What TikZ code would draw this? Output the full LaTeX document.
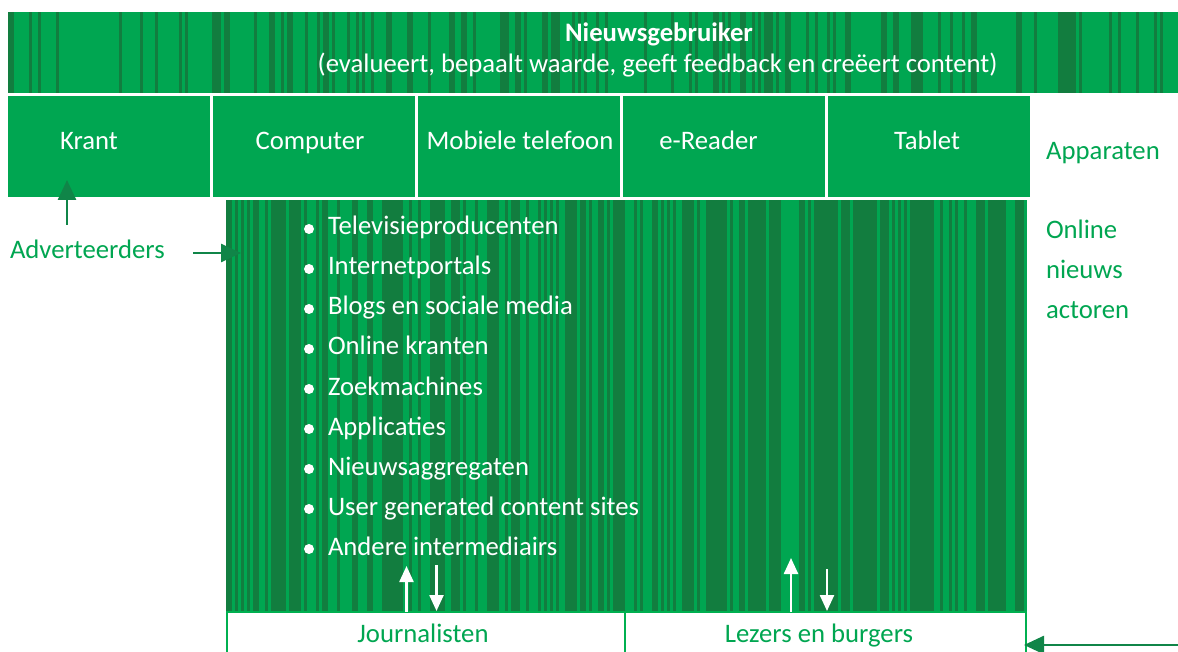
\documentclass[tikz,border=0pt]{standalone}
\usepackage{fontspec}
\setmainfont{Carlito}
\usetikzlibrary{arrows.meta}
\definecolor{lg}{HTML}{00A651}
\definecolor{dg}{HTML}{127D3F}
\definecolor{bg}{HTML}{00B050}
\definecolor{ag}{HTML}{108548}
\begin{document}
\begin{tikzpicture}[x=1pt,y=-1pt,
  every node/.style={font=\fontsize{26.7}{30}\selectfont, inner sep=0pt, outer sep=0pt},
  wtext/.style={text=white, anchor=base},
  wleft/.style={text=white, anchor=base west},
  gtext/.style={text=lg, anchor=base},
  gleft/.style={text=lg, anchor=base west},
  devbox/.style={fill=lg, draw=none, minimum width=202pt, minimum height=101pt, anchor=north west},
  botbox/.style={draw=bg, line width=2pt, fill=white, anchor=north west, minimum height=60pt},
  garrow/.style={draw=ag, line width=2.6pt, -{Triangle[length=20pt,width=18pt]}},
  warrow/.style={draw=white, line width=2.4pt, -{Triangle[length=16pt,width=14pt]}}]
\useasboundingbox (0,0) rectangle (1178,652);
\fill[white] (0,0) rectangle (1178,652);

% top bar
\node[fill=lg, anchor=north west, minimum width=1170pt, minimum height=81pt] (user) at (8,12) {};
\pgfmathsetseed{3}
\foreach \i in {0,...,389}{
  \pgfmathtruncatemacro\flag{rnd<0.33?1:0}
  \ifnum\flag=1 \fill[dg] ({8+3*\i},12) rectangle ({11+3*\i},93);\fi
}
\node[wtext, font=\fontsize{26.7}{30}\selectfont\bfseries] (title) at (659,41.7) {Nieuwsgebruiker};
\node[wtext] (subtitle) at (657.5,72.7) {(evalueert, bepaalt waarde, geeft feedback en creëert content)};

% device boxes
\node[devbox] (krantbox) at (8,96.5) {};
\node[devbox] (compbox) at (213,96.5) {};
\node[devbox] (mobbox) at (418,96.5) {};
\node[devbox] (ereadbox) at (623,96.5) {};
\node[devbox] (tabbox) at (828,96.5) {};
\node[wtext] (krant) at (89,150) {Krant};
\node[wtext] (computer) at (310,150) {Computer};
\node[wtext] (mobiel) at (520,150) {Mobiele telefoon};
\node[wtext] (ereader) at (708.5,150) {e-Reader};
\node[wtext] (tablet) at (927,150) {Tablet};
\node[gtext] (apparaten) at (1103,160) {Apparaten};

% main actors box
\node[fill=dg, anchor=north west, minimum width=801pt, minimum height=411pt] (actors) at (226,200) {};
\pgfmathsetseed{11}
\foreach \i in {0,...,266}{
  \pgfmathtruncatemacro\flag{rnd<0.38?1:0}
  \ifnum\flag=1 \fill[lg] ({226+3*\i},200) rectangle ({229+3*\i},611);\fi
}
\foreach \t [count=\k from 0] in {Televisieproducenten,Internetportals,Blogs en sociale media,Online kranten,Zoekmachines,Applicaties,Nieuwsaggregaten,User generated content sites,Andere intermediairs}{
  \fill[white] (309,{229+40*\k}) circle (5);
  \node[wleft] (item\k) at (328,{235+40*\k}) {\t};
}

\node[gleft] (online) at (1046,238.3) {Online};
\node[gleft] (nieuws) at (1046,278.3) {nieuws};
\node[gleft] (actoren) at (1046,318.3) {actoren};

% bottom boxes
\node[botbox, minimum width=398pt] (journbox) at (227,612) {};
\node[botbox, minimum width=401pt] (lezbox) at (625,612) {};
\node[gtext] (journ) at (423,642) {Journalisten};
\node[gtext] (lezers) at (819,642) {Lezers en burgers};

% Adverteerders
\node[gleft] (advert) at (10,259) {Adverteerders};

% arrows
\coordinate (a1s) at (67,225);
\coordinate (a1e) at (67,180);
\draw[garrow] (a1s) -- (a1e);
\coordinate (a2s) at (193,253);
\coordinate (a2e) at (241,253);
\draw[garrow] (a2s) -- (a2e);
\coordinate (a3s) at (1178,645);
\coordinate (a3e) at (1024,645);
\draw[garrow] (a3s) -- (a3e);

\coordinate (w1s) at (406.5,612);
\coordinate (w1e) at (406.5,566);
\draw[warrow] (w1s) -- (w1e);
\coordinate (w2s) at (436.5,565);
\coordinate (w2e) at (436.5,611);
\draw[warrow] (w2s) -- (w2e);
\coordinate (w3s) at (791,612);
\coordinate (w3e) at (791,558);
\draw[warrow] (w3s) -- (w3e);
\coordinate (w4s) at (827,569);
\coordinate (w4e) at (827,611);
\draw[warrow] (w4s) -- (w4e);
\end{tikzpicture}
\end{document}
